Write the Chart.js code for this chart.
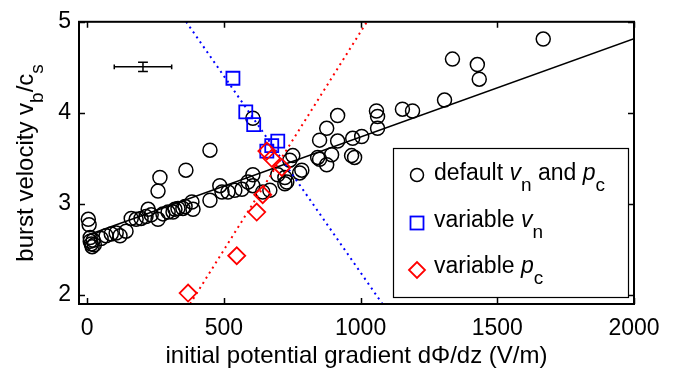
<!DOCTYPE html>
<html><head><meta charset="utf-8">
<script src="https://cdn.jsdelivr.net/npm/chart.js@4.4.1/dist/chart.umd.min.js"></script>
<style>html,body{margin:0;padding:0;background:#fff;}#wrap{width:675px;height:368px;}</style>
</head><body><div id="wrap"><canvas id="c" width="675" height="368"></canvas></div>
<script>
// ---- data ----
const defaultX = [4,7,11,11,15,18,26,22,51,69,88,106,120,142,161,179,197,215,223,234,259,277,296,314,332,358,321,350,383,387,449,485,493,515,540,566,588,606,606,266,259,361,449,606,642,668,697,723,723,730,741,752,777,785,843,850,850,876,876,894,916,916,967,978,971,1004,1058,1062,1062,1153,1190,1307,1336,1427,1434,1668];
const defaultY = [2.83,2.77,2.63,2.59,2.56,2.53,2.55,2.60,2.62,2.65,2.67,2.68,2.65,2.70,2.84,2.83,2.84,2.86,2.94,2.88,2.83,2.89,2.91,2.91,2.95,2.97,2.94,2.95,3.02,2.94,3.04,3.20,3.13,3.13,3.15,3.16,3.24,3.32,3.20,3.29,3.14,3.37,3.59,3.94,3.13,3.15,3.32,3.29,3.22,3.24,3.48,3.53,3.34,3.37,3.51,3.70,3.49,3.83,3.43,3.54,3.97,3.69,3.53,3.51,3.72,3.74,4.02,3.96,3.83,4.04,4.02,4.14,4.59,4.53,4.37,4.81];
const vnX = [533,580,609,657,675,697];
const vnY = [4.38,4.01,3.87,3.58,3.64,3.69];
const pcX = [369,547,620,642,657,675,712];
const pcY = [2.02,2.43,2.91,3.10,3.58,3.50,3.40];
const fitX = [0,2000];
const fitY = [2.655,4.815];
const vnLineX = [362,1080];
const vnLineY = [5,1.9];
const pcLineX = [376,1023];
const pcLineY = [1.9,5];
const errCenter = [204,4.505];
const errHalf = [105,0.05];
const errCap = [18,0.025];
const xTicks = [0,500,1000,1500,2000];
const yTicks = [2,3,4,5];
const xRange = [-30,2000];
const yRange = [1.9,5];

const pts = (xs, ys) => xs.map((x,i)=>({x:x, y:ys[i]}));
const FONT = "'Liberation Sans', Arial, Helvetica, sans-serif";

const [ex, ey] = errCenter, [ehx, ehy] = errHalf, [ecx, ecy] = errCap;
const errSegs = [
  [{x:ex-ehx,y:ey},{x:ex+ehx,y:ey}],
  [{x:ex-ehx,y:ey-ecy},{x:ex-ehx,y:ey+ecy}],
  [{x:ex+ehx,y:ey-ecy},{x:ex+ehx,y:ey+ecy}],
  [{x:ex,y:ey-ehy},{x:ex,y:ey+ehy}],
  [{x:ex-ecx,y:ey-ehy},{x:ex+ecx,y:ey-ehy}],
  [{x:ex-ecx,y:ey+ehy},{x:ex+ecx,y:ey+ehy}]
];

const datasets = [
  {label:'default', data: pts(defaultX, defaultY), pointStyle:'circle', pointRadius:7, borderColor:'#000', backgroundColor:'rgba(0,0,0,0)', pointBorderWidth:1.5, showLine:false, order:5},
  {label:'fit', data: pts(fitX, fitY), showLine:true, borderColor:'#000', borderWidth:1.5, pointRadius:0, order:4},
  {label:'vnLine', data: pts(vnLineX, vnLineY), showLine:true, borderColor:'#0000ff', borderWidth:2, borderDash:[2,4], pointRadius:0, order:3},
  {label:'pcLine', data: pts(pcLineX, pcLineY), showLine:true, borderColor:'#ff0000', borderWidth:2, borderDash:[2,4], pointRadius:0, order:3},
  {label:'vn', data: pts(vnX, vnY), pointStyle:'rect', pointRadius:9.2, borderColor:'#0000ff', backgroundColor:'rgba(0,0,0,0)', pointBorderWidth:1.8, showLine:false, order:2},
  {label:'pc', data: pts(pcX, pcY), pointStyle:'rectRot', pointRadius:8.5, borderColor:'#ff0000', backgroundColor:'rgba(0,0,0,0)', pointBorderWidth:1.8, showLine:false, order:1}
];
errSegs.forEach((s,i)=>datasets.push({label:'err'+i, data:s, showLine:true, borderColor:'#000', borderWidth:1.5, pointRadius:0, order:0}));

function drawRich(ctx, parts, x, y, size, subSize, drop, align){
  let w = 0;
  const m = parts.map(p=>{
    const fs = p.sub ? subSize : size;
    const f = (p.it ? 'italic ' : '') + fs + 'px ' + FONT;
    ctx.font = f;
    const pw = ctx.measureText(p.t).width;
    w += pw;
    return {p, f, pw};
  });
  let cx = align === 'center' ? x - w/2 : x;
  m.forEach(o=>{
    ctx.font = o.f;
    ctx.fillText(o.p.t, cx, y + (o.p.sub ? drop : 0));
    cx += o.pw;
  });
}

const decor = {
  id:'decor',
  afterDatasetsDraw(chart){
    const ctx = chart.ctx, a = chart.chartArea, xs = chart.scales.x, ys = chart.scales.y;
    ctx.save();
    ctx.strokeStyle = '#000';
    ctx.lineWidth = 1.5;
    const tl = 6;
    ctx.beginPath();
    xTicks.forEach(v=>{
      const p = Math.round(xs.getPixelForValue(v)) + 0.5;
      ctx.moveTo(p, a.bottom); ctx.lineTo(p, a.bottom - tl);
      ctx.moveTo(p, a.top); ctx.lineTo(p, a.top + tl);
    });
    yTicks.forEach(v=>{
      const p = Math.round(ys.getPixelForValue(v)) + 0.5;
      ctx.moveTo(a.left, p); ctx.lineTo(a.left + tl, p);
      ctx.moveTo(a.right, p); ctx.lineTo(a.right - tl, p);
    });
    ctx.stroke();
    ctx.lineWidth = 2;
    ctx.strokeRect(a.left, a.top, a.right - a.left, a.bottom - a.top);

    // legend
    const lx = 393, ly = 148, lw = 235, lh = 149;
    ctx.fillStyle = '#fff';
    ctx.fillRect(lx, ly, lw, lh);
    ctx.lineWidth = 1.2;
    ctx.strokeStyle = '#000';
    ctx.strokeRect(lx + 0.5, ly + 0.5, lw, lh);
    const mx = 417;
    ctx.lineWidth = 1.5;
    ctx.strokeStyle = '#000';
    ctx.beginPath(); ctx.arc(mx, 175, 6.5, 0, Math.PI*2); ctx.stroke();
    ctx.strokeStyle = '#0000ff'; ctx.lineWidth = 1.8;
    ctx.strokeRect(mx - 6.5, 223 - 6.5, 13, 13);
    ctx.strokeStyle = '#ff0000';
    ctx.beginPath(); ctx.moveTo(mx - 8, 270); ctx.lineTo(mx, 262); ctx.lineTo(mx + 8, 270); ctx.lineTo(mx, 278); ctx.closePath(); ctx.stroke();

    ctx.fillStyle = '#000';
    ctx.textBaseline = 'alphabetic';
    ctx.textAlign = 'left';
    drawRich(ctx, [{t:'default '},{t:'v',it:1},{t:'n',sub:1},{t:' and '},{t:'p',it:1},{t:'c',sub:1}], 434, 180, 23, 19, 11);
    drawRich(ctx, [{t:'variable '},{t:'v',it:1},{t:'n',sub:1}], 434, 227, 23, 19, 11);
    drawRich(ctx, [{t:'variable '},{t:'p',it:1},{t:'c',sub:1}], 434, 273, 23, 19, 11);

    // axis titles
    drawRich(ctx, [{t:'initial potential gradient dΦ/dz (V/m)'}], (a.left + a.right)/2, 363, 24, 19, 0, 'center');
    ctx.save();
    ctx.translate(33, (a.top + a.bottom)/2);
    ctx.rotate(-Math.PI/2);
    drawRich(ctx, [{t:'burst velocity v'},{t:'b',sub:1},{t:'/c'},{t:'s',sub:1}], 0, 0, 24, 19, 10, 'center');
    ctx.restore();
    ctx.restore();
  }
};

new Chart(document.getElementById('c'), {
  type:'scatter',
  data:{datasets},
  options:{
    responsive:false, animation:false, devicePixelRatio:1,
    layout:{padding:{top:16, right:41, left:0, bottom:0}},
    plugins:{legend:{display:false}, tooltip:{enabled:false}},
    elements:{line:{tension:0}},
    scales:{
      x:{type:'linear', min:xRange[0], max:xRange[1],
        afterBuildTicks:s=>{s.ticks = xTicks.map(v=>({value:v}));},
        afterFit:s=>{s.height = 64;},
        grid:{display:false, drawTicks:false}, border:{display:false},
        ticks:{color:'#000', font:{family:FONT, size:23}, padding:11, maxRotation:0, autoSkip:false, callback:v=>String(v)}},
      y:{type:'linear', min:yRange[0], max:yRange[1],
        afterBuildTicks:s=>{s.ticks = yTicks.map(v=>({value:v}));},
        afterFit:s=>{s.width = 79;},
        grid:{display:false, drawTicks:false}, border:{display:false},
        ticks:{color:'#000', font:{family:FONT, size:23}, padding:8, autoSkip:false, callback:v=>String(v)}}
    }
  },
  plugins:[decor]
});
</script></body></html>
